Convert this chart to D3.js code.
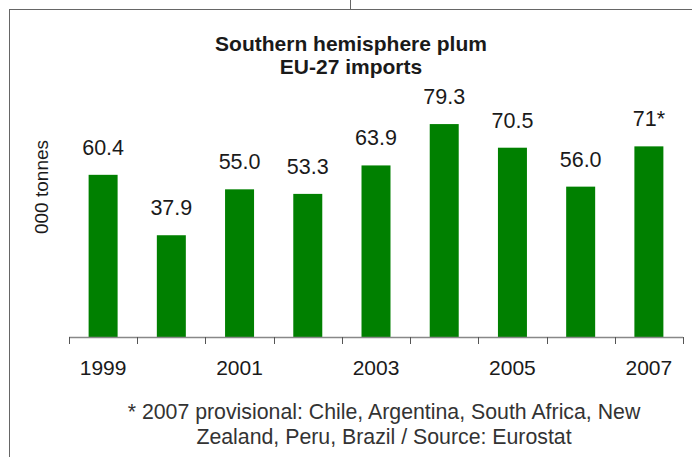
<!DOCTYPE html>
<html>
<head>
<meta charset="utf-8">
<script src="https://cdn.jsdelivr.net/npm/d3@7"></script>
<style>
  body { margin: 0; background: #fff; }
  svg { display: block; font-family: "Liberation Sans", Arial, sans-serif; }
</style>
</head>
<body>
<div id="chart"></div>
<script>
"use strict"

// chart data
const years = ["1999", "2000", "2001", "2002", "2003", "2004", "2005", "2006", "2007"];
const imports = [60.4, 37.9, 55.0, 53.3, 63.9, 79.3, 70.5, 56.0, 71];
const value_labels = ["60.4", "37.9", "55.0", "53.3", "63.9", "79.3", "70.5", "56.0", "71*"];
const tick_years = ["1999", "2001", "2003", "2005", "2007"];

const width = 692, height = 457;

const svg = d3.select("#chart").append("svg")
    .attr("width", width)
    .attr("height", height);

//outer frame (top and left edges only, as cropped from the page)
svg.append("line")
    .attr("x1", 9).attr("x2", width).attr("y1", 9.5).attr("y2", 9.5)
    .attr("stroke", "#666").attr("stroke-width", 1);
svg.append("line")
    .attr("x1", 9.5).attr("x2", 9.5).attr("y1", 9).attr("y2", height)
    .attr("stroke", "#666").attr("stroke-width", 1);
svg.append("line")
    .attr("x1", 350.5).attr("x2", 350.5).attr("y1", 0).attr("y2", 9)
    .attr("stroke", "#666").attr("stroke-width", 1);

//plot area
const plot = { left: 69, right: 683, bottom: 337 };

//one band per year, no padding -> used for ticks at band edges
const x = d3.scaleBand()
    .domain(years)
    .range([plot.left, plot.right])
    .padding(0);

const bar_w = x.bandwidth() * 0.425;

const y = d3.scaleLinear()
    .domain([0, 90])
    .range([plot.bottom, plot.bottom - 90 * 2.685]);

//title
const title = svg.append("text")
    .attr("text-anchor", "middle")
    .attr("font-weight", "bold")
    .attr("font-size", 21)
    .attr("fill", "#1a1a1a");
title.append("tspan").attr("x", 351).attr("y", 51).text("Southern hemisphere plum");
title.append("tspan").attr("x", 351).attr("y", 74).text("EU-27 imports");

//y axis title
svg.append("text")
    .attr("transform", "translate(48,187) rotate(-90)")
    .attr("text-anchor", "middle")
    .attr("font-size", 19)
    .attr("fill", "#1a1a1a")
    .text("000 tonnes");

//bars
svg.selectAll("rect.bar")
    .data(years)
    .join("rect")
    .attr("class", "bar")
    .attr("x", d => x(d) + (x.bandwidth() - bar_w) / 2)
    .attr("width", bar_w)
    .attr("y", (d, i) => y(imports[i]))
    .attr("height", (d, i) => y(0) - y(imports[i]))
    .attr("fill", "#008000");

//value labels above bars
svg.selectAll("text.val")
    .data(years)
    .join("text")
    .attr("class", "val")
    .attr("x", d => x(d) + x.bandwidth() / 2)
    .attr("y", (d, i) => y(imports[i]) - 20)
    .attr("text-anchor", "middle")
    .attr("font-size", 21.5)
    .attr("fill", "#1a1a1a")
    .text((d, i) => value_labels[i]);

//x axis: baseline, ticks at every band edge, labels on odd years
const axis_g = svg.append("g");
axis_g.append("line")
    .attr("x1", plot.left).attr("x2", plot.right)
    .attr("y1", plot.bottom + 0.5).attr("y2", plot.bottom + 0.5)
    .attr("stroke", "#888").attr("stroke-width", 1.5);

const edges = years.map(d => x(d)).concat([x.range()[1]]);
axis_g.selectAll("line.tick")
    .data(edges)
    .join("line")
    .attr("class", "tick")
    .attr("x1", d => Math.round(d) + 0.5).attr("x2", d => Math.round(d) + 0.5)
    .attr("y1", plot.bottom).attr("y2", plot.bottom + 7)
    .attr("stroke", "#555").attr("stroke-width", 1);

axis_g.selectAll("text.yr")
    .data(tick_years)
    .join("text")
    .attr("class", "yr")
    .attr("x", d => x(d) + x.bandwidth() / 2)
    .attr("y", 375)
    .attr("text-anchor", "middle")
    .attr("font-size", 21)
    .attr("fill", "#1a1a1a")
    .text(d => d);

//footnote
const note = svg.append("text")
    .attr("text-anchor", "middle")
    .attr("font-size", 21.3)
    .attr("fill", "#333");
note.append("tspan").attr("x", 384).attr("y", 419)
    .text("* 2007 provisional: Chile, Argentina, South Africa, New");
note.append("tspan").attr("x", 384).attr("y", 444)
    .text("Zealand, Peru, Brazil / Source: Eurostat");
</script>
</body>
</html>
